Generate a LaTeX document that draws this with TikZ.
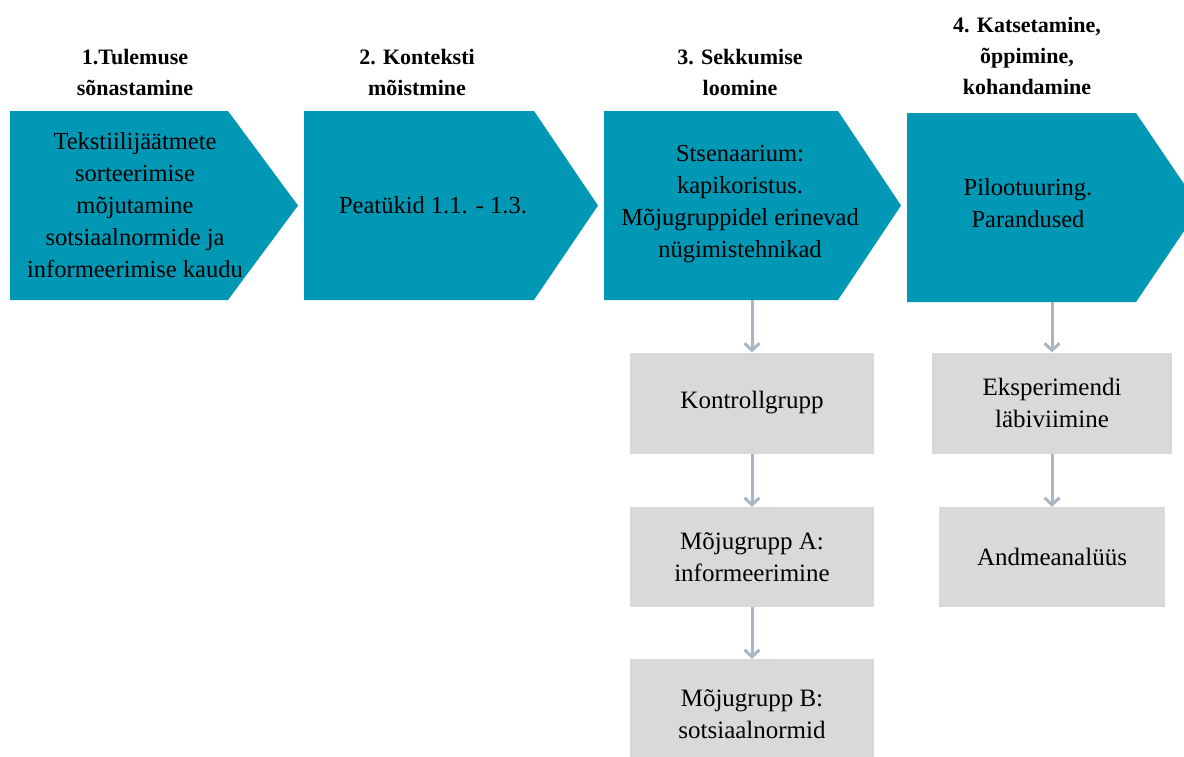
\documentclass[tikz,border=0pt]{standalone}
\usepackage{fontspec}
\setmainfont{Liberation Serif}
\usetikzlibrary{arrows.meta}
\definecolor{teal1}{RGB}{0,152,180}
\definecolor{boxgray}{RGB}{217,217,217}
\definecolor{arrgray}{RGB}{168,183,195}
\tikzset{
  chev/.style={fill=teal1, draw=none},
  chevtext/.style={align=center, inner sep=0pt, font=\fontsize{24.5}{32}\selectfont},
  title/.style={align=center, inner sep=0pt, font=\fontsize{22}{31}\selectfont\bfseries},
  graybox/.style={fill=boxgray, draw=none, align=center, inner sep=0pt, font=\fontsize{25}{32}\selectfont},
  conn/.style={draw=arrgray, line width=3pt, -{Straight Barb[length=7pt,width=15pt,line width=3pt]}}
}
\begin{document}
\begin{tikzpicture}[x=1pt,y=-1pt]
\useasboundingbox (0,0) rectangle (1184,756);
\clip (0,0) rectangle (1184,756);
% chevrons
\fill[chev] (10,111) -- (228,111) -- (298,205.5) -- (228,300) -- (10,300) -- cycle;
\fill[chev] (304,111) -- (534,111) -- (598,205.5) -- (534,300) -- (304,300) -- cycle;
\fill[chev] (604,111) -- (838,111) -- (901,205.5) -- (838,300) -- (604,300) -- cycle;
\fill[chev] (907,113) -- (1136,113) -- (1200,207.5) -- (1136,302) -- (907,302) -- cycle;
\coordinate (c3b) at (752,300);
\coordinate (c4b) at (1052,302);
% titles
\node[title] (t1) at (135,72.5) {1.Tulemuse\\sõnastamine};
\node[title] (t2) at (417,72.5) {2. Konteksti\\mõistmine};
\node[title] (t3) at (740,72.5) {3. Sekkumise\\loomine};
\node[title] (t4) at (1027,56) {4. Katsetamine,\\õppimine,\\kohandamine};
% chevron texts
\node[chevtext] (c1) at (135,205) {Tekstiilijäätmete\\sorteerimise\\mõjutamine\\sotsiaalnormide ja\\informeerimise kaudu};
\node[chevtext] (c2) at (433,205) {Peatükid 1.1. - 1.3.};
\node[chevtext] (c3) at (740,204) {Stsenaarium:\\kapikoristus.\\Mõjugruppidel erinevad\\nügimistehnikad};
\node[chevtext] (c4) at (1028,203) {Pilootuuring.\\Parandused};
% gray boxes
\node[graybox, minimum width=244pt, minimum height=101pt] (k) at (752,403) {Kontrollgrupp};
\node[graybox, minimum width=244pt, minimum height=100pt] (a) at (752,557) {Mõjugrupp A:\\informeerimine};
\node[graybox, minimum width=244pt, minimum height=110pt] (b) at (752,714) {Mõjugrupp B:\\sotsiaalnormid};
\node[graybox, minimum width=240pt, minimum height=101pt] (e) at (1052,403) {Eksperimendi\\läbiviimine};
\node[graybox, minimum width=226pt, minimum height=100pt] (d) at (1052,557) {Andmeanalüüs};
% connectors
\draw[conn] (c3b) -- (k.north);
\draw[conn] (k.south) -- (a.north);
\draw[conn] (a.south) -- (b.north);
\draw[conn] (c4b) -- (e.north);
\draw[conn] (e.south) -- (d.north);
\end{tikzpicture}
\end{document}
